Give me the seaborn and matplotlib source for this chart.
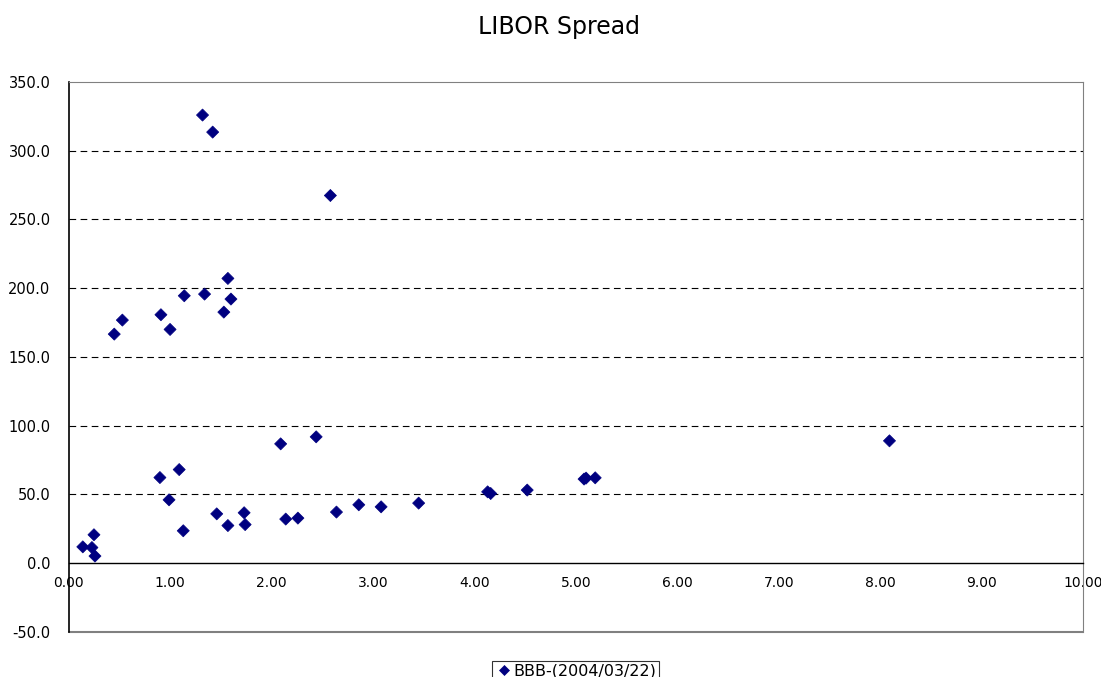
import matplotlib
matplotlib.use("Agg")
import matplotlib.pyplot as plt
import seaborn as sns
import pandas as pd

maturity = [0.14, 0.23, 0.25, 0.26, 0.45, 0.53, 0.90, 0.91, 0.99, 1.00,
            1.09, 1.13, 1.14, 1.32, 1.34, 1.42, 1.46, 1.53, 1.57, 1.57,
            1.60, 1.73, 1.74, 2.09, 2.14, 2.26, 2.44, 2.58, 2.64, 2.86,
            3.08, 3.45, 4.13, 4.16, 4.52, 5.08, 5.10, 5.19, 8.09]
spread = [11.9, 11.4, 20.7, 5.2, 166.6, 176.8, 62.3, 180.7, 46.1, 170.0,
          68.1, 23.6, 194.5, 325.9, 195.7, 313.5, 35.9, 182.6, 27.4, 207.1,
          192.1, 36.7, 28.1, 86.8, 32.1, 32.8, 91.9, 267.4, 37.2, 42.5,
          41.0, 43.7, 51.9, 50.7, 53.2, 61.2, 61.9, 62.1, 89.0]
series_name = "BBB-(2004/03/22)"
title = "LIBOR Spread"
x_ticks = [0, 1, 2, 3, 4, 5, 6, 7, 8, 9, 10]
y_ticks = [-50, 0, 50, 100, 150, 200, 250, 300, 350]

df = pd.DataFrame({"x": maturity, "y": spread, "s": series_name})

sns.set_style("white")
plt.rcParams['font.family'] = ['DejaVu Sans']

fig = plt.figure(figsize=(11.01, 6.77), dpi=100)
ax = fig.add_axes([0.0623, 0.0665, 0.9216, 0.8125])

sns.scatterplot(data=df, x="x", y="y", hue="s", palette=["#000080"],
                marker="D", s=38, edgecolor="#000080", linewidth=0.5, ax=ax,
                legend=True, zorder=3)

ax.set_xlim(0, 10)
ax.set_ylim(-50, 350)
ax.set_xticks(x_ticks)
ax.set_xticklabels([f"{v:.2f}" for v in x_ticks], fontsize=10.5)
ax.set_yticks(y_ticks)
ax.set_yticklabels([f"{v:.1f}" for v in y_ticks], fontsize=10.5)
ax.set_xlabel("")
ax.set_ylabel("")

for v in [50, 100, 150, 200, 250, 300]:
    ax.axhline(v, color="black", linestyle=(0, (6, 4)), linewidth=0.8, zorder=1)

ax.spines['bottom'].set_position(('data', 0))
ax.spines['bottom'].set_color("black")
ax.spines['bottom'].set_linewidth(1.0)
ax.spines['left'].set_color("black")
ax.spines['left'].set_linewidth(1.2)
ax.spines['top'].set_color("#808080")
ax.spines['right'].set_color("#808080")
ax.axhline(-50, color="#808080", linewidth=1.5, clip_on=False, zorder=2)

ax.tick_params(axis='x', direction='in', length=5, width=1, pad=9, colors="black")
ax.tick_params(axis='y', direction='out', length=5, width=1, pad=8, colors="black")

fig.text(0.508, 0.96, title, ha="center", va="center", fontsize=17, color="black")

h, l = ax.get_legend_handles_labels()
ax.get_legend().remove()
leg = fig.legend(h, [series_name], loc="upper center", bbox_to_anchor=(0.523, 0.036),
                 bbox_transform=fig.transFigure, frameon=True, fancybox=False,
                 edgecolor="black", fontsize=11.5, handletextpad=0.1,
                 handlelength=1.0, borderpad=0.2, markerscale=0.8)
leg.get_frame().set_linewidth(0.8)
for t in leg.get_texts():
    t.set_color("black")

fig.savefig("out.png", dpi=100)
